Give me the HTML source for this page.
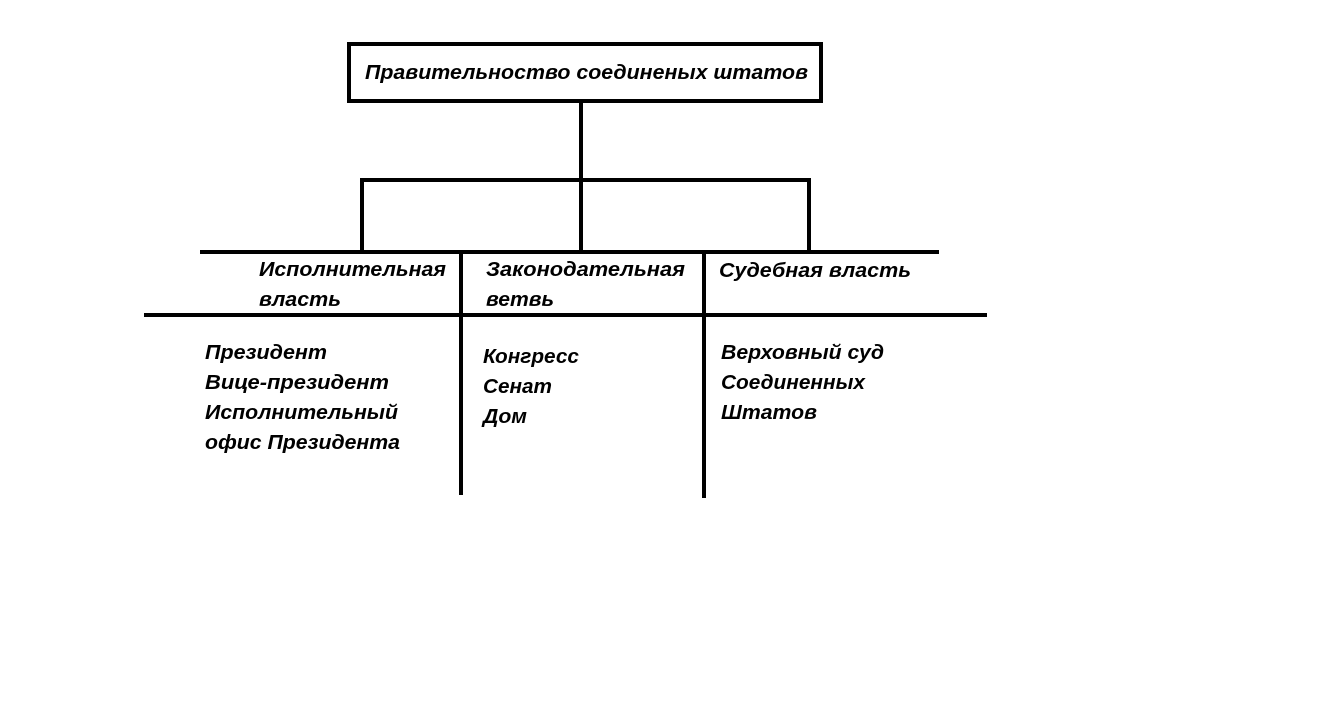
<!DOCTYPE html>
<html><head><meta charset="utf-8"><style>
html,body{margin:0;padding:0;background:#fff;}
svg{display:block;}
text{font-family:"Liberation Sans","DejaVu Sans",sans-serif;font-weight:bold;font-style:italic;font-size:20px;fill:#000;}
</style></head><body>
<svg width="1342" height="709" viewBox="0 0 1342 709" xmlns="http://www.w3.org/2000/svg">
<g stroke="#000" stroke-width="4" fill="none" stroke-linecap="square">
<rect x="349" y="44" width="472" height="57"/>
<line x1="581" y1="101" x2="581" y2="251"/>
<line x1="362" y1="180" x2="809" y2="180"/>
<line x1="362" y1="180" x2="362" y2="251"/>
<line x1="809" y1="180" x2="809" y2="251"/>
<line x1="202" y1="252" x2="937" y2="252"/>
<line x1="146" y1="315" x2="985" y2="315"/>
<line x1="461" y1="252" x2="461" y2="493"/>
<line x1="704" y1="252" x2="704" y2="496"/>
</g>
<text x="365" y="79" textLength="443" lengthAdjust="spacingAndGlyphs">Правительноство соединеных штатов</text>
<text x="259" y="276" textLength="187" lengthAdjust="spacingAndGlyphs">Исполнительная</text>
<text x="259" y="306" textLength="82" lengthAdjust="spacingAndGlyphs">власть</text>
<text x="486" y="276" textLength="199" lengthAdjust="spacingAndGlyphs">Законодательная</text>
<text x="486" y="306" textLength="68" lengthAdjust="spacingAndGlyphs">ветвь</text>
<text x="719" y="277" textLength="192" lengthAdjust="spacingAndGlyphs">Судебная власть</text>
<text x="205" y="359" textLength="122" lengthAdjust="spacingAndGlyphs">Президент</text>
<text x="205" y="389" textLength="184" lengthAdjust="spacingAndGlyphs">Вице-президент</text>
<text x="205" y="419" textLength="193" lengthAdjust="spacingAndGlyphs">Исполнительный</text>
<text x="205" y="449" textLength="195" lengthAdjust="spacingAndGlyphs">офис Президента</text>
<text x="483" y="363" textLength="96" lengthAdjust="spacingAndGlyphs">Конгресс</text>
<text x="483" y="393" textLength="69" lengthAdjust="spacingAndGlyphs">Сенат</text>
<text x="483" y="423" textLength="44" lengthAdjust="spacingAndGlyphs">Дом</text>
<text x="721" y="359" textLength="163" lengthAdjust="spacingAndGlyphs">Верховный суд</text>
<text x="721" y="389" textLength="144" lengthAdjust="spacingAndGlyphs">Соединенных</text>
<text x="721" y="419" textLength="96" lengthAdjust="spacingAndGlyphs">Штатов</text>
</svg>
</body></html>
